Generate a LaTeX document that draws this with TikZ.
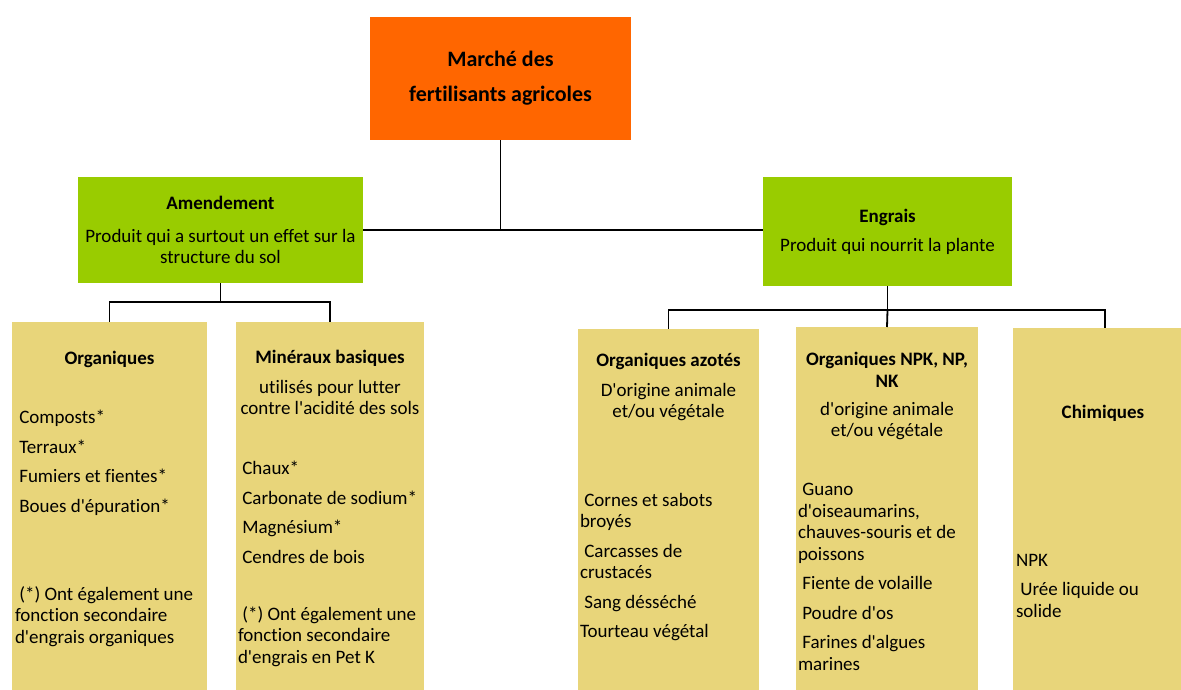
\documentclass[tikz,border=0pt]{standalone}
\usepackage{fontspec}
\setmainfont{Carlito}[Ligatures={TeXOff,NoCommon}]
\usepackage{tikz}
\usetikzlibrary{calc}
\definecolor{rootorange}{RGB}{255,102,0}
\definecolor{catgreen}{RGB}{153,204,0}
\definecolor{subtan}{RGB}{232,213,122}
\newcommand{\bodyfont}{\fontsize{19}{21.5}\selectfont}

\begin{document}
\begin{tikzpicture}[x=1pt,y=-1pt,
  rootbox/.style={fill=rootorange, minimum width=261pt, minimum height=123pt, align=center, font=\bfseries\fontsize{22}{35}\selectfont},
  catbox/.style={fill=catgreen, align=center, font=\bodyfont},
  subbox/.style={fill=subtan, anchor=north, minimum height=400pt, inner sep=0pt},
  boxtitle/.style={anchor=north, align=center, inner sep=0pt, font=\bodyfont\bfseries},
  boxsub/.style={anchor=north, align=center, inner sep=0pt, font=\bodyfont},
  boxtext/.style={anchor=north west, align=left, inner sep=0pt, font=\bodyfont},
  link/.style={draw=black, line width=1.8pt}]
\useasboundingbox (0,0) rectangle (1181,689);
\clip (0,0) rectangle (1181,689);

\node[rootbox] (root) at (500.5,78.5) {Marché des\\fertilisants agricoles};
\node[catbox, minimum width=285pt, minimum height=106pt] (amend) at (220.5,230) {\textbf{Amendement}\\[11.5pt]Produit qui a surtout un effet sur la\\structure du sol};
\node[catbox, minimum width=249pt, minimum height=109pt] (engrais) at (887.5,231.5) {\textbf{Engrais}\\[7.5pt]Produit qui nourrit la plante};

\node[subbox, minimum width=195pt] (org) at (109.5,322) {};
\node[subbox, minimum width=188pt] (miner) at (330,322) {};
\node[subbox, minimum width=181pt] (azote) at (668.5,329) {};
\node[subbox, minimum width=182pt] (npk) at (887,327) {};
\node[subbox, minimum width=184pt] (chim) at (1105,328) {};

\node[boxtitle] (orgtitle) at ($(org.north)+(0,29)$) {Organiques};
\node[boxtext] (orglist) at ($(org.north west)+(3,88)$) {\ Composts*\\[8pt]\ Terraux*\\[8pt]\ Fumiers et fientes*\\[8pt]\ Boues d'épuration*};
\node[boxtext] (orgnote) at ($(org.north west)+(3,264)$) {\ (*) Ont également une\\fonction secondaire\\d'engrais organiques};

\node[boxtitle] (minertitle) at ($(miner.north)+(0,28)$) {Minéraux basiques};
\node[boxsub] (minersub) at ($(miner.north)+(0,58)$) {utilisés pour lutter\\contre l'acidité des sols};
\node[boxtext] (minerlist) at ($(miner.north west)+(2,139)$) {\ Chaux*\\[8pt]\ Carbonate de sodium*\\[8pt]\ Magnésium*\\[8pt]\ Cendres de bois};
\node[boxtext] (minernote) at ($(miner.north west)+(2,284)$) {\ (*) Ont également une\\fonction secondaire\\d'engrais en Pet K};

\node[boxtitle] (azotetitle) at ($(azote.north)+(0,24)$) {Organiques azotés};
\node[boxsub] (azotesub) at ($(azote.north)+(0,54)$) {D'origine animale\\et/ou végétale};
\node[boxtext] (azotelist) at ($(azote.north west)+(2,164)$) {\ Cornes et sabots\\broyés\\[8pt]\ Carcasses de\\crustacés\\[8pt]\ Sang désséché\\[8pt]Tourteau végétal};

\node[boxtitle] (npktitle) at ($(npk.north)+(0,25)$) {Organiques NPK, NP,\\NK};
\node[boxsub] (npksub) at ($(npk.north)+(0,75)$) {d'origine animale\\et/ou végétale};
\node[boxtext] (npklist) at ($(npk.north west)+(2,156)$) {\ Guano\\d'oiseaumarins,\\chauves-souris et de\\poissons\\[8pt]\ Fiente de volaille\\[8pt]\ Poudre d'os\\[8pt]\ Farines d'algues\\marines};

\node[boxtitle] (chimtitle) at ($(chim.north)+(-2,77)$) {Chimiques};
\node[boxtext] (chimlist) at ($(chim.north west)+(3,226)$) {NPK\\[8pt]\ Urée liquide ou\\solide};

\coordinate (forkA) at ($(amend.south)+(0,19)$);
\coordinate (forkE) at ($(engrais.south)+(0,24)$);
\draw[link] (root.south) -- (root.south |- amend.east);
\draw[link] (amend.east) -- (amend.east -| engrais.west);
\draw[link] (amend.south) -- (forkA) -| (org.north);
\draw[link] (forkA) -| (miner.north);
\draw[link] (engrais.south) -- (forkE) -| (azote.north);
\draw[link] (forkE) -- (npk.north);
\draw[link] (forkE) -| (chim.north);
\end{tikzpicture}
\end{document}
